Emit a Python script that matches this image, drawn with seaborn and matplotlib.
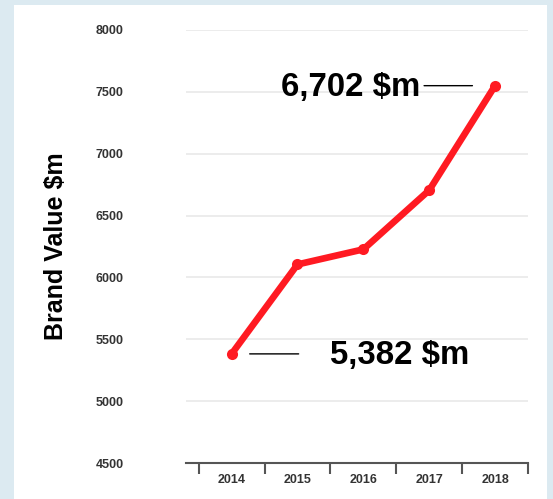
import matplotlib
matplotlib.use("Agg")
import matplotlib.pyplot as plt
from matplotlib.patches import Rectangle
from matplotlib.ticker import FixedLocator, NullFormatter, FixedFormatter
import numpy as np
import pandas as pd
import seaborn as sns

years = ["2014", "2015", "2016", "2017", "2018"]
brand_value = [5382, 6105, 6227, 6705, 7550]
y_ticks = [4500, 5000, 5500, 6000, 6500, 7000, 7500, 8000]
label_high = "6,702 $m"
label_low = "5,382 $m"

sns.set_theme(style="white")
plt.rcParams["font.family"] = ["Liberation Sans", "DejaVu Sans"]

W, H = 553, 499
fig = plt.figure(figsize=(W / 100, H / 100), dpi=100)
fig.patch.set_facecolor("#dceaf1")
fig.patches.append(Rectangle((14 / W, 0), (547 - 14) / W, (499 - 5) / H,
                             transform=fig.transFigure, facecolor="white",
                             edgecolor="none", zorder=-10))

ax = fig.add_axes([186 / W, (H - 463) / H, 342 / W, 433 / H])
ax.set_zorder(5)
ax.set_facecolor("none")

df = pd.DataFrame({"pos": np.arange(len(years)), "value": brand_value})
sns.lineplot(data=df, x="pos", y="value", ax=ax, color="#ff1a22",
             linewidth=4.8, marker="o", markersize=8, markeredgewidth=0,
             zorder=3)

ax.set_xlim(-0.693, 4.5)
ax.set_ylim(y_ticks[0], y_ticks[-1])

# y axis
ax.set_yticks(y_ticks)
ax.set_yticklabels([str(t) for t in y_ticks])
ax.tick_params(axis="y", length=0, pad=45, labelsize=9, labelcolor="#333333")
for lab in ax.get_yticklabels():
    lab.set_fontweight("bold")
ax.yaxis.grid(True, color="#ececec", linewidth=1.4)
ax.xaxis.grid(False)

# x axis: ticks at band edges, labels at centers
ax.xaxis.set_major_locator(FixedLocator(np.arange(len(years) + 1) - 0.5))
ax.xaxis.set_major_formatter(NullFormatter())
ax.xaxis.set_minor_locator(FixedLocator(np.arange(len(years))))
ax.xaxis.set_minor_formatter(FixedFormatter(years))
ax.tick_params(axis="x", which="major", direction="out", length=8, width=1.5,
               color="#555555", bottom=True)
ax.tick_params(axis="x", which="minor", length=0, pad=8, labelsize=9,
               labelcolor="#333333", bottom=True)
for lab in ax.get_xticklabels(minor=True):
    lab.set_fontweight("bold")

for s in ["top", "right", "left"]:
    ax.spines[s].set_visible(False)
ax.spines["bottom"].set_color("#555555")
ax.spines["bottom"].set_linewidth(1.5)

ax.set_xlabel("")
ax.set_ylabel("Brand Value $m", fontsize=18, fontweight="bold", color="black")
ax.yaxis.set_label_coords(-0.345, 0.5)

# annotations
last = len(years) - 1
ax.annotate("", xy=(last, brand_value[last]), xytext=(-71, 0), textcoords="offset pixels",
            arrowprops=dict(arrowstyle="-", color="black", lw=1.0, shrinkA=0, shrinkB=16.3))
ax.annotate(label_high, xy=(last, brand_value[last]), xytext=(-75, -2),
            textcoords="offset pixels", ha="right", va="center",
            fontsize=23.8, fontweight="bold", color="black")
ax.annotate("", xy=(0, brand_value[0]), xytext=(67, 0), textcoords="offset pixels",
            arrowprops=dict(arrowstyle="-", color="black", lw=1.0, shrinkA=0, shrinkB=13))
ax.annotate(label_low, xy=(0, brand_value[0]), xytext=(98, -2),
            textcoords="offset pixels", ha="left", va="center",
            fontsize=23.8, fontweight="bold", color="black")

fig.savefig("out.png", dpi=100)
